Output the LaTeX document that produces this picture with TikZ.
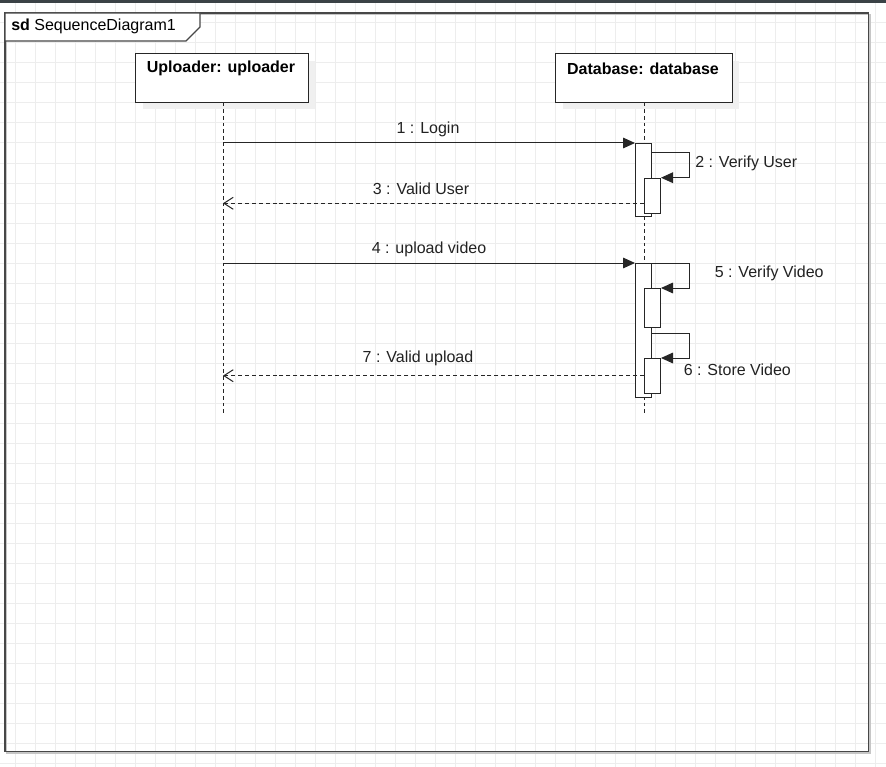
\documentclass[tikz,border=0pt]{standalone}
\usepackage{fontspec}
\setmainfont{Liberation Sans}
\usetikzlibrary{arrows.meta}
\definecolor{gridc}{HTML}{EDEDED}
\definecolor{barc}{HTML}{3B4246}
\definecolor{linec}{HTML}{262626}
\definecolor{shadowc}{HTML}{F0F0F0}
\definecolor{txtc}{HTML}{222222}
\tikzset{
  px/.style={x=0.75pt,y=-0.75pt},
  lifebox/.style={draw=linec,fill=white,line width=0.8pt},
  actbar/.style={draw=linec,fill=white,line width=0.75pt},
  lifeline/.style={draw=linec,line width=0.75pt,dash pattern=on 2.6pt off 2.4pt},
  callmsg/.style={draw=linec,line width=0.75pt,-{Triangle[length=9pt,width=8pt]}},
  retmsg/.style={draw=linec,line width=0.75pt,dash pattern=on 3pt off 2.2pt,-{Straight Barb[length=7pt,width=9pt,line width=0.75pt]}},
  lbl/.style={font=\fontsize{12}{14}\selectfont,text=txtc,inner sep=0pt},
  boldlbl/.style={font=\fontsize{12}{14}\selectfont\bfseries,text=black,inner sep=0pt},
}
\begin{document}
\begin{tikzpicture}[px]
\useasboundingbox (0,0) rectangle (886,767);
\fill[white] (0,0) rectangle (886,767);
% grid
\foreach \gx in {15,35,...,875} {\draw[gridc,line width=0.75pt] (\gx,3) -- (\gx,767);}
\foreach \gy in {23,43,...,763} {\draw[gridc,line width=0.75pt] (0,\gy) -- (886,\gy);}
% top bar
\fill[barc] (0,0) rectangle (886,3);
% frame
\draw[gray!45,line width=1pt] (6.5,14.5) rectangle (870,753);
\draw[linec!85,line width=0.9pt] (5,13) rectangle (868.5,751.5);
\draw[linec!85,fill=white,line width=0.8pt] (5,13) -- (200,13) -- (200,27) -- (186,41) -- (5,41) -- cycle;
\node[anchor=west,inner sep=0pt] (sdlbl) at (11,26) {\fontsize{12}{14}\selectfont\bfseries sd\ \mdseries SequenceDiagram1};
% shadows
\fill[shadowc] (143,61) rectangle (315,109);
\fill[shadowc] (563,61) rectangle (739,109);
% lifeline boxes
\node[lifebox,minimum width=0.75*173,minimum height=0.75*49,anchor=north west,inner sep=0pt] (upl) at (134.5,52.7) {};
\node[boldlbl] (upltxt) at (221,68.5) {Uploader: uploader};
\node[lifebox,minimum width=0.75*177,minimum height=0.75*49,anchor=north west,inner sep=0pt] (db) at (554.5,52.7) {};
\node[boldlbl] (dbtxt) at (643,68.5) {Database: database};
% lifelines
\coordinate (uplEnd) at (223,414);
\coordinate (dbEnd) at (644,414);
\draw[lifeline] (upl.south -| uplEnd) -- (uplEnd);
\draw[lifeline] (db.south -| dbEnd) -- (dbEnd);
% activation bars
\node[actbar,minimum width=0.75*16,minimum height=0.75*73,anchor=north west,inner sep=0pt] (act1) at (635,143) {};
\node[actbar,minimum width=0.75*16,minimum height=0.75*35.5,anchor=north west,inner sep=0pt] (act2) at (644,177.7) {};
\node[actbar,minimum width=0.75*16,minimum height=0.75*133.5,anchor=north west,inner sep=0pt] (act3) at (635,263) {};
\node[actbar,minimum width=0.75*16,minimum height=0.75*38.5,anchor=north west,inner sep=0pt] (act5) at (644,288) {};
\node[actbar,minimum width=0.75*16,minimum height=0.75*35,anchor=north west,inner sep=0pt] (act6) at (644,358) {};
% messages
\coordinate (m1s) at (223,143);
\draw[callmsg] (m1s) -- (act1.north west);
\node[lbl] (l1) at (428,129.5) {1 : Login};
\draw[callmsg] (act1.north east |- 0,152.5) -- (689,152.5) -- (689,177.7) -- (act2.north east);
\node[lbl,anchor=west] (l2) at (695,163.5) {2 : Verify User};
\coordinate (m3e) at (223,203.3);
\draw[retmsg] (act2.west |- m3e) -- (m3e);
\node[lbl] (l3) at (421,188.5) {3 : Valid User};
\coordinate (m4s) at (223,263);
\draw[callmsg] (m4s) -- (act3.north west);
\node[lbl] (l4) at (429,249.5) {4 : upload video};
\draw[callmsg] (act3.north east) -- (689,263) -- (689,288) -- (act5.north east);
\node[lbl,anchor=west] (l5) at (714.5,273.5) {5 : Verify Video};
\draw[callmsg] (act3.east |- 0,333.3) -- (689,333.3) -- (689,358) -- (act6.north east);
\node[lbl,anchor=west] (l6) at (683.5,369.5) {6 : Store Video};
\coordinate (m7e) at (223,375.7);
\draw[retmsg] (act6.west |- m7e) -- (m7e);
\node[lbl] (l7) at (418,358.5) {7 : Valid upload};
\end{tikzpicture}
\end{document}
